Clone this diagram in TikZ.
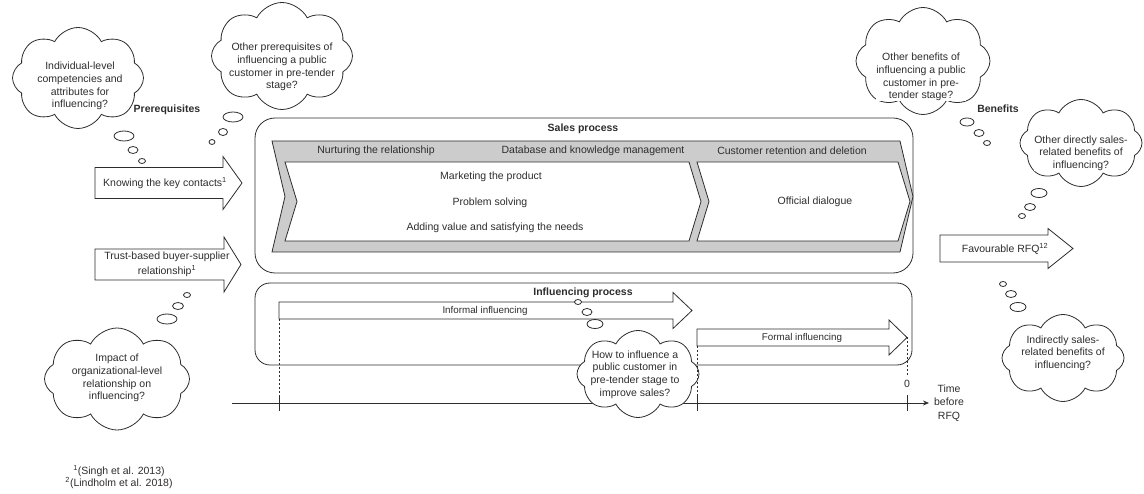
\documentclass[tikz,border=0pt]{standalone}
\usepackage{fontspec}
\setmainfont{Liberation Sans}
\usepackage{xcolor}
\usepackage{tikz}
\usetikzlibrary{arrows.meta,shapes.symbols,positioning}

\definecolor{stepgray}{RGB}{204,204,204}
\definecolor{inkgray}{RGB}{45,45,45}

% block arrow: name, tail x, head x, tip x, mid y, half body, half head
\newcommand{\fatarrow}[7]{%
  \draw[fill=white] (#2,#5-#6) -- (#3,#5-#6) -- (#3,#5-#7) -- (#4,#5)
    -- (#3,#5+#7) -- (#3,#5+#6) -- (#2,#5+#6) -- cycle;
  \coordinate (#1 tail) at (#2,#5+#6);
  \coordinate (#1 tip) at (#4,#5);}
% chevron: style, left x, right x, top y, bottom y, depth
\newcommand{\stepshape}[6]{%
  \draw[#1] (#2,#4) -- (#3-#6,#4) -- (#3,{(#4+#5)/2}) -- (#3-#6,#5)
    -- (#2,#5) -- (#2+#6,{(#4+#5)/2}) -- cycle;}

\begin{document}
\begin{tikzpicture}[x=1pt,y=-1pt,>=Stealth,color=inkgray,line width=0.8pt,
  lbl/.style={font=\fontsize{10.5}{12.6}\selectfont,inner sep=0pt,align=center},
  small/.style={lbl,font=\fontsize{9.8}{12}\selectfont},
  head/.style={lbl,font=\fontsize{10.5}{12.6}\selectfont\bfseries},
  thought/.style={cloud,cloud puffs=8,cloud puff arc=125,
    draw,fill=white,inner sep=0pt},
  qtext/.style={lbl,fill=white,inner sep=0.6pt},
  guide/.style={dash pattern=on 2pt off 2pt,line width=0.7pt}]
\useasboundingbox (0,0) rectangle (1144,494);

% sales process
\draw[rounded corners=20pt] (255,118) rectangle (913,273);
\node[head] (sales) at (583,129) {Sales process};
\stepshape{fill=stepgray}{272}{913}{141}{252}{13}
\stepshape{fill=white}{285}{701}{162}{241}{12}
\stepshape{fill=white}{697}{910}{162}{241}{12}
\node[lbl] (nurture) at (376,151) {Nurturing the relationship};
\node[lbl] (database) at (593,151) {Database and knowledge management};
\node[lbl] (retention) at (792,151) {Customer retention and deletion};
\node[lbl] (marketing) at (491,177) {Marketing the product};
\node[lbl] (solving) at (490,203) {Problem solving};
\node[lbl] (adding) at (495,228) {Adding value and satisfying the needs};
\node[lbl] (official) at (815,202) {Official dialogue};

% influencing process
\draw[rounded corners=15pt] (255,283) rectangle (912,365);
\node[head] (influencing) at (583,293) {Influencing process};
\fatarrow{informal}{279}{673}{692}{310.5}{8.5}{18}
\fatarrow{formal}{697}{889}{907}{337.5}{8.5}{17.5}
\node[small] (informal) at (485,311) {Informal influencing};
\node[small] (formal) at (802,338) {Formal influencing};

% prerequisites and benefits
\fatarrow{knowing}{95}{223}{242}{183}{15.5}{26.5}
\fatarrow{trust}{95}{224}{241}{264.5}{15.5}{27.5}
\fatarrow{favour}{940}{1048}{1073}{248.5}{13.5}{20}
\node[lbl] (knowing) at (165,183) {Knowing the key contacts\textsuperscript{1}};
\node[lbl] (trust) at (167,264.5) {Trust-based buyer-supplier\\[2pt]relationship\textsuperscript{1}};
\node[lbl] (favour) at (1005,249) {Favourable RFQ\textsuperscript{12}};
\node[head] (prereq) at (167,110) {Prerequisites};
\node[head] (benefits) at (998,109) {Benefits};

% time axis
\coordinate (start) at (232,403);
\coordinate (t0) at (279,403);
\coordinate (t1) at (697,403);
\coordinate (t2) at (907,403);
\coordinate (end) at (929,403);
\draw[-{Stealth[length=6pt,width=5pt]}] (start) -- (end);
\node[lbl] (zero) at (907,384) {0};
\node[lbl,font=\fontsize{10.5}{13.5}\selectfont] (time) at (949,403) {Time\\before\\RFQ};

% open questions
\node[thought,aspect=1.3,minimum width=131pt,minimum height=101pt] (cldA) at (78,78) {};
\node[qtext] (qA) at (80,86) {Individual-level\\competencies and\\attributes for\\influencing?};
\node[thought,aspect=1.32,minimum width=141pt,minimum height=107pt] (cldB) at (282,56) {};
\node[qtext] (qB) at (282,67) {Other prerequisites of\\influencing a public\\customer in pre-tender\\stage?};
\node[thought,aspect=1.4,minimum width=122pt,minimum height=87pt] (cldC) at (638,374) {};
\node[qtext] (qC) at (635,374.5) {How to influence a\\public customer in\\pre-tender stage to\\improve sales?};
\node[thought,aspect=1.42,minimum width=145pt,minimum height=102pt] (cldD) at (117,379) {};
\node[qtext] (qD) at (117,378) {Impact of\\organizational-level\\relationship on\\influencing?};
\node[thought,aspect=1.25,minimum width=134pt,minimum height=107pt] (cldE) at (923,61) {};
\node[qtext] (qE) at (921,77) {Other benefits of\\influencing a public\\customer in pre-\\tender stage?};
\node[thought,aspect=1.4,minimum width=122pt,minimum height=87pt] (cldF) at (1081,143) {};
\node[qtext] (qF) at (1081,153) {Other directly sales-\\related benefits of\\influencing?};
\node[thought,aspect=1.4,minimum width=122pt,minimum height=87pt] (cldG) at (1063,358) {};
\node[qtext] (qG) at (1063,353) {Indirectly sales-\\related benefits of\\influencing?};

% start lines and ticks
\draw[guide] (informal tail) -- (t0);
\draw[guide] (formal tail) -- (t1);
\draw[guide] (formal tip) -- ([yshift=26pt]t2);
\foreach \t in {t0,t1,t2}
  \draw ([yshift=8pt]\t) -- ([yshift=-8pt]\t);

% thought bubbles
\foreach \x/\y/\rx/\ry in {124/136/10/5, 133/150/5/3.5, 142/161/3.5/2.5,
    233/117/10/5, 223/132/4.5/3.5, 212/142/3/2.5,
    578/302/3.5/2.5, 587/312/5/3.5, 595/324/8/4.5,
    187/295/3.5/2.5, 178/306/5.5/3.5, 167/319/10/5,
    967/122/7/4, 979/133/5/3.5, 987/143/3.5/2.5,
    1039/193/8/4.5, 1030/207/5.5/3.5, 1022/216/3.5/2.5,
    1003/284/3.5/2.5, 1011/294/5.5/3.5, 1018/307/8/4.5}
  \draw[fill=white] (\x,\y) ellipse [x radius=\rx pt, y radius=\ry pt];

\node[lbl] (refs) at (119,477) {\textsuperscript{1}(Singh et al. 2013)\\\textsuperscript{2}(Lindholm et al. 2018)};
\end{tikzpicture}
\end{document}
